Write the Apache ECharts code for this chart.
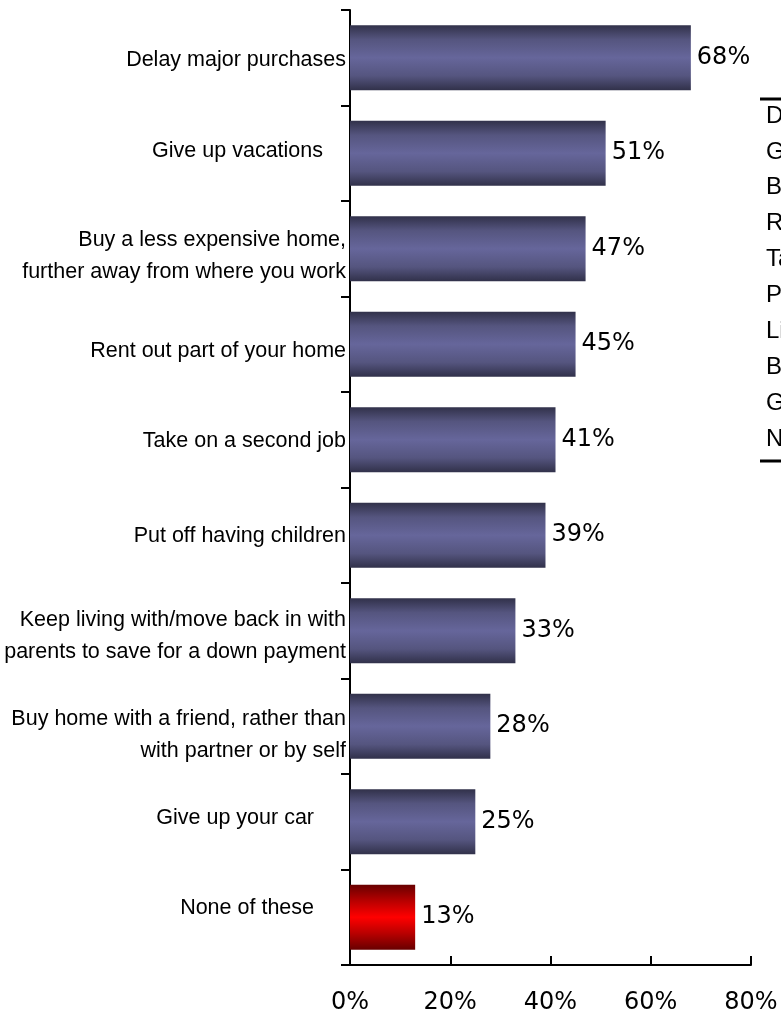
<!DOCTYPE html>
<html>
<head>
<meta charset="utf-8">
<script src="https://cdn.jsdelivr.net/npm/echarts@6/dist/echarts.min.js"></script>
<style>
html,body{margin:0;padding:0;background:#fff;}
#chart{width:781px;height:1015px;}
</style>
</head>
<body>
<div id="chart"></div>
<script>
// ---- data ----
var categories = [
  'Delay major purchases',
  'Give up vacations',
  'Buy a less expensive home,\nfurther away from where you work',
  'Rent out part of your home',
  'Take on a second job',
  'Put off having children',
  'Keep living with/move back in with\nparents to save for a down payment',
  'Buy home with a friend, rather than\nwith partner or by self',
  'Give up your car',
  'None of these'
];
var values = [68, 51, 47, 45, 41, 39, 33, 28, 25, 13];
var xTicks = [0, 20, 40, 60, 80];
var legendLabels = ['Delay', 'Give', 'Buy', 'Rent', 'Take', 'Put', 'Live', 'Buy', 'Give', 'None'];

// ---- styling / build ----
var blueGrad = new echarts.graphic.LinearGradient(0, 0, 0, 1, [
  {offset: 0, color: '#31314a'},
  {offset: 0.22, color: '#55557f'},
  {offset: 0.5, color: '#66669b'},
  {offset: 0.78, color: '#55557f'},
  {offset: 1, color: '#31314a'}
]);
var redGrad = new echarts.graphic.LinearGradient(0, 0, 0, 1, [
  {offset: 0, color: '#680000'},
  {offset: 0.25, color: '#b80000'},
  {offset: 0.5, color: '#ff0000'},
  {offset: 0.75, color: '#b80000'},
  {offset: 1, color: '#680000'}
]);

// per-label nudges: [vertical shift (px, + = down), right padding]
var labelNudge = [[2, 0], [-2, 23], [7, 0], [7, 0], [1, 0], [1, 0], [5, 0], [9, 0], [-4, 32], [-9, 32]];
var labelFont = '"Liberation Sans", Arial, sans-serif';
var rich = {};
function textStyleName(pad) {
  var k = 't' + pad;
  if (!rich[k]) rich[k] = {fontSize: 21.5, lineHeight: 32, color: '#000', fontFamily: labelFont, padding: [0, pad, 0, 0], align: 'right'};
  return k;
}
function gapStyleName(h) {
  var k = 'g' + h;
  if (!rich[k]) rich[k] = {fontSize: 1, lineHeight: h, align: 'right'};
  return k;
}
labelNudge.forEach(function (n) {
  textStyleName(n[1]);
  if (n[0] !== 0) gapStyleName(Math.abs(n[0]) * 2);
});
function labelFormatter(value, index) {
  var n = labelNudge[index] || [0, 0];
  var lines = value.split('\n').map(function (l) { return '{' + textStyleName(n[1]) + '|' + l + '}'; });
  if (n[0] > 0) lines.unshift('{' + gapStyleName(n[0] * 2) + '| }');
  if (n[0] < 0) lines.push('{' + gapStyleName(-n[0] * 2) + '| }');
  return lines.join('\n');
}

var barData = values.map(function (v, i) {
  return {value: v, itemStyle: {color: categories[i] === 'None of these' ? redGrad : blueGrad}};
});

var legendGraphics = [
  {type: 'line', shape: {x1: 760, y1: 99, x2: 781, y2: 99}, style: {stroke: '#000', lineWidth: 3}},
  {type: 'line', shape: {x1: 760, y1: 461, x2: 781, y2: 461}, style: {stroke: '#000', lineWidth: 3}}
];
legendLabels.forEach(function (t, i) {
  legendGraphics.push({
    type: 'text', left: 766, top: 104 + i * 35.9,
    style: {text: t, font: '24px "Liberation Sans", Arial, sans-serif', fill: '#000'}
  });
});

var chart = echarts.init(document.getElementById('chart'), null, {renderer: 'canvas'});
chart.setOption({
  animation: false,
  backgroundColor: '#fff',
  grid: {left: 350, right: 30, top: 10, bottom: 50, containLabel: false},
  xAxis: {
    type: 'value', min: xTicks[0], max: xTicks[xTicks.length - 1], interval: xTicks[1] - xTicks[0],
    axisLine: {show: true, lineStyle: {color: '#000', width: 2}},
    axisTick: {show: true, inside: true, length: 9, lineStyle: {color: '#000', width: 2}},
    splitLine: {show: false},
    axisLabel: {formatter: '{value}%', margin: 26, color: '#000', fontSize: 24, fontFamily: '"DejaVu Sans", Verdana, sans-serif'}
  },
  yAxis: {
    type: 'category', inverse: true, data: categories,
    axisLine: {show: true, lineStyle: {color: '#000', width: 2}},
    axisTick: {show: true, inside: false, length: 9, lineStyle: {color: '#000', width: 2}},
    axisLabel: {margin: 4, color: '#000', fontSize: 21.5, lineHeight: 32, align: 'right', fontFamily: labelFont,
      formatter: labelFormatter, rich: rich}
  },
  series: [{
    type: 'bar', data: barData, barWidth: 65,
    label: {show: true, position: 'right', distance: 6, formatter: '{c}%', color: '#000', fontSize: 24, fontFamily: '"DejaVu Sans", Verdana, sans-serif'}
  }],
  graphic: legendGraphics
});
</script>
</body>
</html>
